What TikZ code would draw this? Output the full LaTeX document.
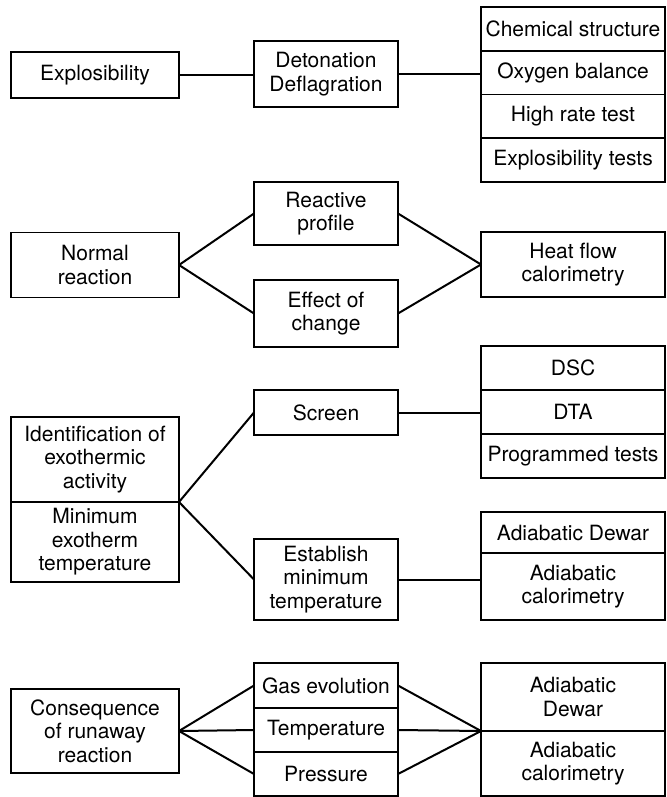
\documentclass[tikz,border=0pt]{standalone}
\usepackage{fontspec}
\setmainfont{TeX Gyre Heros}
\begin{document}
\begin{tikzpicture}[x=1pt,y=-1pt,
  every node/.style={font=\fontsize{21}{23.5}\selectfont},
  cell/.style={draw, line width=1.8pt, align=center, inner sep=0pt, outer sep=0pt},
  lbox/.style={cell, minimum width=168pt},
  mbox/.style={cell, minimum width=144pt},
  rbox/.style={cell, minimum width=184pt},
  link/.style={line width=2pt}]
\useasboundingbox (0,0) rectangle (666,797);

% --- Explosibility ---
\node[lbox, minimum height=46pt] (expl) at (95,75) {Explosibility};
\node[mbox, minimum height=66pt] (deto) at (326,74) {Detonation\\Deflagration};
\node[rbox, minimum height=43.75pt] (chem) at (573,28.9) {Chemical structure};
\node[rbox, minimum height=43.75pt] (oxy)  at (573,72.6) {Oxygen balance};
\node[rbox, minimum height=43.75pt] (high) at (573,116.4) {High rate test};
\node[rbox, minimum height=43.75pt] (etst) at (573,160.1) {Explosibility tests};
\draw[link] (expl.east) -- (expl.east -| deto.west);
\draw[link] (deto.east) -- (deto.east -| oxy.west);

% --- Normal reaction ---
\node[lbox, minimum height=65pt] (norm) at (95,265) {Normal\\reaction};
\node[mbox, minimum height=63pt] (react) at (326,213.5) {Reactive\\profile};
\node[mbox, minimum height=67pt] (chg) at (326,313.5) {Effect of\\change};
\node[rbox, minimum height=65pt] (heat) at (573,264.5) {Heat flow\\calorimetry};
\draw[link] (norm.east) -- (react.west);
\draw[link] (norm.east) -- (chg.west);
\draw[link] (react.east) -- (heat.west);
\draw[link] (chg.east) -- (heat.west);

% --- Exothermic activity ---
\node[lbox, minimum height=85pt] (ident) at (95,459.5) {Identification of\\exothermic\\activity};
\node[lbox, minimum height=80pt] (minexo) at (95,542) {Minimum\\exotherm\\temperature};
\node[mbox, minimum height=45pt] (scr) at (326,412.5) {Screen};
\node[mbox, minimum height=81pt] (estb) at (326,579.5) {Establish\\minimum\\temperature};
\node[rbox, minimum height=44pt] (dsc) at (573,368) {DSC};
\node[rbox, minimum height=44pt] (dta) at (573,412) {DTA};
\node[rbox, minimum height=44pt] (prog) at (573,456) {Programmed tests};
\node[rbox, minimum height=41pt] (adew) at (573,532.5) {Adiabatic Dewar};
\node[rbox, minimum height=67pt] (acal) at (573,586.5) {Adiabatic\\calorimetry};
\draw[link] (ident.south east) -- (scr.west);
\draw[link] (ident.south east) -- (estb.west);
\draw[link] (scr.east) -- (scr.east -| dta.west);
\draw[link] (estb.east) -- (estb.east -| acal.west);

% --- Runaway reaction ---
\node[lbox, minimum height=84pt] (cons) at (95,731) {Consequence\\of runaway\\reaction};
\node[mbox, minimum height=45pt] (gas) at (326,685.5) {Gas evolution};
\node[mbox, minimum height=44pt] (temp) at (326,730) {Temperature};
\node[mbox, minimum height=44pt] (pres) at (326,774) {Pressure};
\node[rbox, minimum height=68pt] (adew2) at (573,697) {Adiabatic\\Dewar};
\node[rbox, minimum height=65pt] (acal2) at (573,763.5) {Adiabatic\\calorimetry};
\draw[link] (cons.east) -- (gas.west);
\draw[link] (cons.east) -- (temp.west);
\draw[link] (cons.east) -- (pres.west);
\draw[link] (gas.east) -- (adew2.south west);
\draw[link] (temp.east) -- (adew2.south west);
\draw[link] (pres.east) -- (adew2.south west);
\end{tikzpicture}
\end{document}
